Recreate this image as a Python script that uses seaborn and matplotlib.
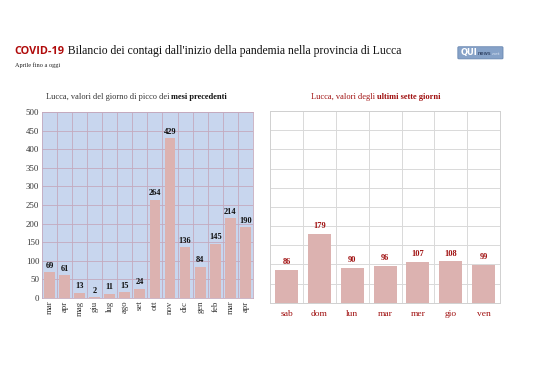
import numpy as np
import pandas as pd
import matplotlib
matplotlib.use("Agg")
import matplotlib.pyplot as plt
import seaborn as sns
from matplotlib.offsetbox import TextArea, HPacker, AnchoredOffsetbox
from matplotlib.patches import FancyBboxPatch

sns.set_style("white")
plt.rcParams["font.family"] = ["Liberation Serif", "DejaVu Serif"]

# ---------------- DATA ----------------
months = ["mar", "apr", "mag", "giu", "lug", "ago", "set", "ott", "nov",
          "dic", "gen", "feb", "mar", "apr"]
peak_values = [69, 61, 13, 2, 11, 15, 24, 264, 429, 136, 84, 145, 214, 190]

days = ["sab", "dom", "lun", "mar", "mer", "gio", "ven"]
week_values = [86, 179, 90, 96, 107, 108, 99]

left_df = pd.DataFrame({"pos": range(len(months)), "value": peak_values})
right_df = pd.DataFrame({"pos": range(len(days)), "value": week_values})

BAR = "#dcb2b0"
RED = "#b00a0a"
DARKRED = "#a01010"

fig = plt.figure(figsize=(5.38, 3.8), dpi=100)

# ---------------- TITLE ----------------
def packed(parts, x, y):
    boxes = [TextArea(t, textprops=p) for t, p in parts]
    pack = HPacker(children=boxes, align="baseline", pad=0, sep=0)
    ab = AnchoredOffsetbox(loc="lower left", child=pack, pad=0, frameon=False,
                           bbox_to_anchor=(x, y), bbox_transform=fig.transFigure,
                           borderpad=0)
    fig.add_artist(ab)
    return ab

packed([("COVID-19", dict(family="Open Sans", weight="bold", color=RED, size=7.8)),
        (" Bilancio dei contagi dall'inizio della pandemia nella provincia di Lucca",
         dict(size=8.4, color="#111111"))], 0.027, 0.85)
fig.text(0.027, 0.824, "Aprile fino a oggi", fontsize=4.5, color="#222222")

# small logo box
fig.add_artist(FancyBboxPatch((0.853, 0.847), 0.08, 0.028,
                              boxstyle="round,pad=0.002", transform=fig.transFigure,
                              fc="#86a2c8", ec="#5f7fab", lw=0.5))
packed([("QUI", dict(family="DejaVu Sans", weight="bold", color="white", size=6)),
        ("news", dict(family="DejaVu Sans", color="#1d2d4d", size=3.8)),
        (".net", dict(family="DejaVu Sans", color="#dde6f4", size=3.2))],
       0.857, 0.850)

# ---------------- LEFT: monthly peaks ----------------
ax1 = fig.add_axes([0.078, 0.216, 0.392, 0.489])
sns.barplot(data=left_df, x="pos", y="value", color=BAR, width=0.72,
            saturation=1, linewidth=0, ax=ax1)
ax1.set_facecolor("#c8d6ee")
ax1.set_ylim(0, 500)
ax1.set_xlim(-0.5, len(months) - 0.5)
ax1.set_yticks(np.arange(0, 501, 50))
ax1.set_xticks(range(len(months)))
ax1.set_xticklabels(months, rotation=90)
ax1.set_xticks(np.arange(0.5, len(months) - 0.5, 1), minor=True)
ax1.grid(axis="y", which="major", color="#c4a9bd", lw=0.6)
ax1.grid(axis="x", which="minor", color="#c4a9bd", lw=0.6)
ax1.set_axisbelow(True)
ax1.tick_params(axis="both", which="both", length=0, labelsize=6.3, pad=2,
                colors="#333333")
for s in ax1.spines.values():
    s.set_color("#c4a9bd")
    s.set_linewidth(0.6)
for i, v in enumerate(peak_values):
    ax1.text(i, v + 7, str(v), ha="center", va="bottom", fontsize=6,
             weight="bold", color="#111111")
ax1.set_xlabel("")
ax1.set_ylabel("")
packed([("Lucca, valori del giorno di picco dei ", dict(size=6, color="#333333")),
        ("mesi precedenti", dict(size=6, weight="bold", color="#111111"))],
       0.085, 0.733)

# ---------------- RIGHT: last seven days ----------------
ax2 = fig.add_axes([0.502, 0.203, 0.4275, 0.505])
sns.barplot(data=right_df, x="pos", y="value", color=BAR, width=0.7,
            saturation=1, linewidth=0, ax=ax2)
ax2.set_facecolor("white")
ax2.set_ylim(0, 500)
ax2.set_xlim(-0.5, len(days) - 0.5)
ax2.set_yticks(np.arange(0, 501, 50))
ax2.set_yticklabels([])
ax2.set_xticks(range(len(days)))
ax2.set_xticklabels(days)
ax2.set_xticks(np.arange(0.5, len(days) - 0.5, 1), minor=True)
ax2.grid(axis="y", which="major", color="#d9d9d9", lw=0.7)
ax2.grid(axis="x", which="minor", color="#d9d9d9", lw=0.7)
ax2.set_axisbelow(True)
ax2.tick_params(axis="both", which="both", length=0, labelsize=6.8, pad=5,
                colors=DARKRED)
for s in ax2.spines.values():
    s.set_color("#d0d0d0")
    s.set_linewidth(0.7)
for i, v in enumerate(week_values):
    ax2.text(i, v + 10, str(v), ha="center", va="bottom", fontsize=6,
             weight="bold", color=DARKRED)
ax2.set_xlabel("")
ax2.set_ylabel("")
packed([("Lucca, valori degli ", dict(size=6, color=DARKRED)),
        ("ultimi sette giorni", dict(size=6, weight="bold", color=DARKRED))],
       0.578, 0.733)

fig.savefig("out.png", dpi=100)
